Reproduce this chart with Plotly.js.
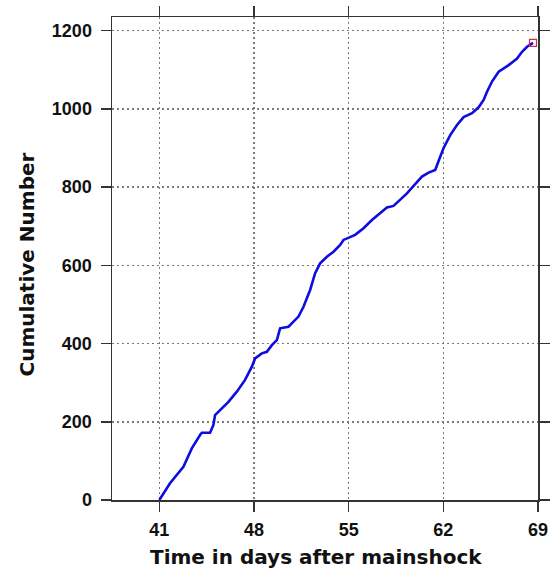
<!DOCTYPE html>
<html>
<head>
<meta charset="utf-8">
<script src="https://cdn.plot.ly/plotly-3.0.1.min.js"></script>
<style>
  html, body { margin: 0; padding: 0; background: #fff; }
  #chart { width: 555px; height: 573px; }
</style>
</head>
<body>
<div id="chart"></div>
<script>
// Cumulative number of aftershocks versus time (days after the mainshock)
const days = [
  41.00, 41.79, 42.78, 43.40, 44.01, 44.14, 44.75, 45.00, 45.12, 45.49,
  46.11, 46.73, 47.34, 47.84, 48.08, 48.58, 48.95, 49.32, 49.69, 49.93,
  50.55, 50.92, 51.29, 51.66, 52.15, 52.52, 52.89, 53.39, 53.88, 54.37,
  54.62, 55.48, 56.10, 56.72, 57.34, 57.83, 58.32, 58.81, 59.31, 59.80,
  60.42, 60.91, 61.40, 61.65, 62.02, 62.51, 63.01, 63.50, 64.12, 64.61,
  64.98, 65.23, 65.60, 66.09, 66.83, 67.45, 67.82, 68.19, 68.63
];
const cumulative = [
  0, 43, 85, 132, 166, 172, 172, 192, 217, 230,
  251, 277, 307, 341, 362, 375, 379, 396, 409, 439,
  443, 456, 469, 494, 537, 580, 605, 622, 635, 652,
  665, 678, 695, 716, 733, 748, 752, 767, 784, 803,
  827, 837, 844, 867, 900, 933, 959, 979, 989, 1004,
  1023, 1044, 1070, 1095, 1112, 1129, 1146, 1159, 1169
];
const xTicks = [41, 48, 55, 62, 69];
const yTicks = [0, 200, 400, 600, 800, 1000, 1200];
const xTitle = "Time in days after mainshock";
const yTitle = "Cumulative Number";

const lastX = days[days.length - 1];
const lastY = cumulative[cumulative.length - 1];

const traces = [
  {
    x: days, y: cumulative, type: "scatter", mode: "lines",
    line: { color: "#0d0de0", width: 2.6 },
    hoverinfo: "skip", showlegend: false
  },
  {
    x: [lastX], y: [lastY], type: "scatter", mode: "markers",
    marker: { symbol: "square-open", size: 7, color: "#d0304a", line: { width: 1.2 } },
    hoverinfo: "skip", showlegend: false
  }
];

const tickFont = { family: "Liberation Sans, Arial, sans-serif", size: 18, weight: 700, color: "#111" };
const titleFont = { family: "DejaVu Sans, sans-serif", size: 20, weight: 700, color: "#111" };

const axisCommon = {
  showline: true, linecolor: "#333", linewidth: 1.5, mirror: "ticks",
  ticks: "outside", ticklen: 10, tickwidth: 1.5, tickcolor: "#333",
  showgrid: true, gridcolor: "#7a7a7a", gridwidth: 1.6, griddash: "1.6px,3.4px",
  zeroline: false, tickfont: tickFont, fixedrange: true
};

const layout = {
  width: 555, height: 573,
  margin: { l: 112, r: 17, t: 17, b: 73, pad: 0 },
  paper_bgcolor: "#ffffff", plot_bgcolor: "#ffffff",
  xaxis: Object.assign({}, axisCommon, {
    range: [37.5, 69], tickmode: "array", tickvals: xTicks,
    ticktext: xTicks.map(String), ticklabelstandoff: 3
  }),
  yaxis: Object.assign({}, axisCommon, {
    range: [0, 1235], tickmode: "array", tickvals: yTicks,
    ticktext: yTicks.map(String), ticklabelstandoff: 5
  }),
  annotations: [
    {
      text: xTitle, xref: "paper", yref: "paper", x: 0.5, y: 0,
      xanchor: "center", yanchor: "middle", xshift: -9, yshift: -57,
      showarrow: false, font: titleFont
    },
    {
      text: yTitle, xref: "paper", yref: "paper", x: 0, y: 0.5,
      xanchor: "center", yanchor: "middle", xshift: -86, yshift: -6,
      textangle: -90, showarrow: false, font: titleFont
    }
  ]
};

Plotly.newPlot("chart", traces, layout, { displayModeBar: false, staticPlot: true });
</script>
</body>
</html>
